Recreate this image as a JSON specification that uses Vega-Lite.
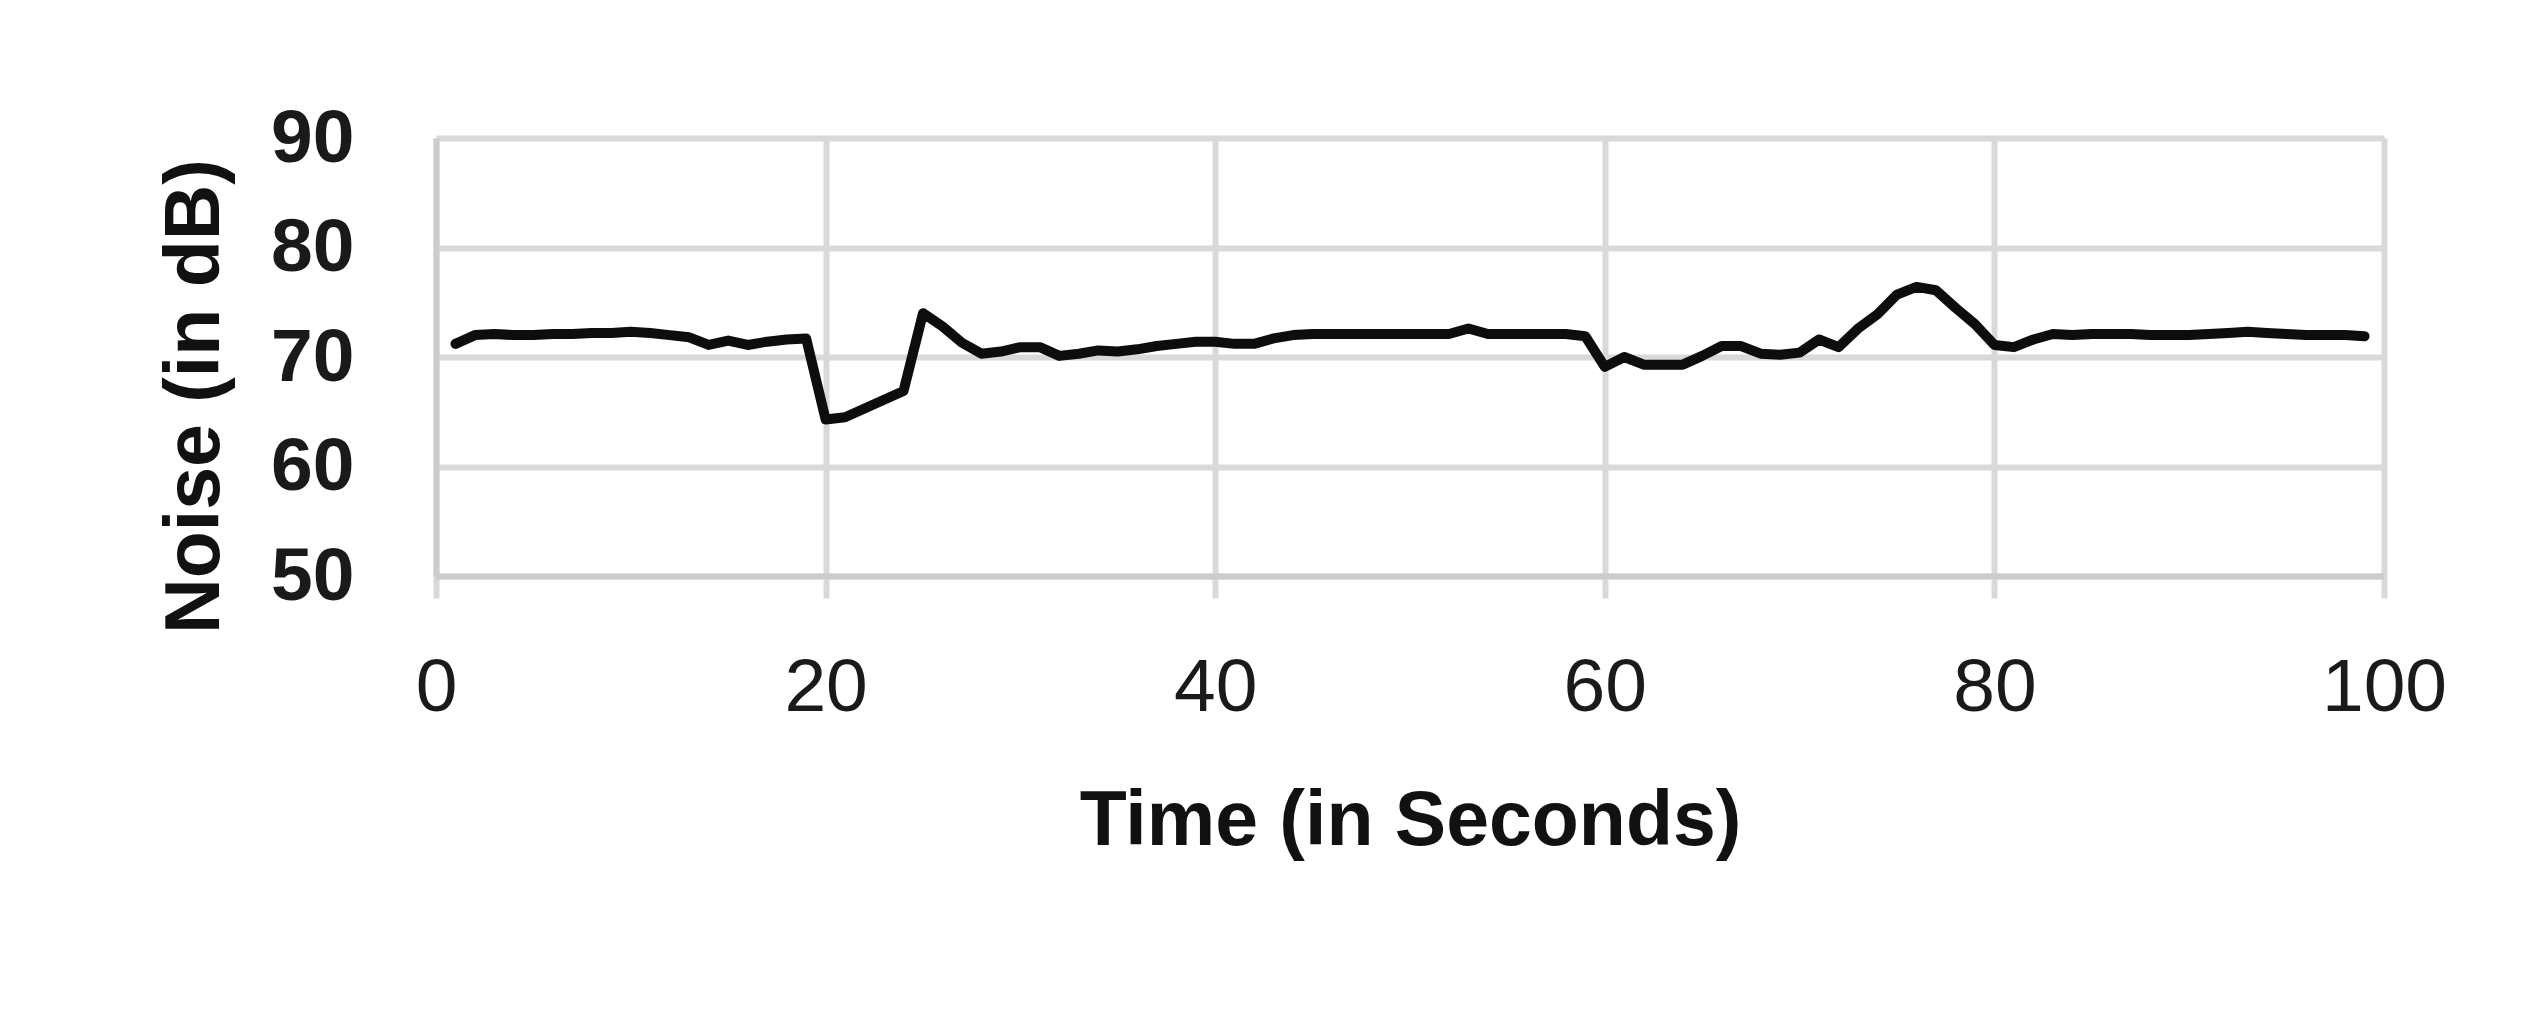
{
  "$schema": "https://vega.github.io/schema/vega-lite/v6.json",
  "width": 1948,
  "height": 438,
  "autosize": {"type": "none"},
  "padding": {"left": 436, "top": 138, "right": 159, "bottom": 446},
  "background": "white",
  "config": {
    "view": {"stroke": null},
    "font": "Liberation Sans"
  },
  "data": {
    "values": [
      {"t": 1, "noise": 71.2}, {"t": 2, "noise": 72.0}, {"t": 3, "noise": 72.1}, {"t": 4, "noise": 72.0},
      {"t": 5, "noise": 72.0}, {"t": 6, "noise": 72.1}, {"t": 7, "noise": 72.1}, {"t": 8, "noise": 72.2},
      {"t": 9, "noise": 72.2}, {"t": 10, "noise": 72.3}, {"t": 11, "noise": 72.2}, {"t": 12, "noise": 72.0},
      {"t": 13, "noise": 71.8}, {"t": 14, "noise": 71.1}, {"t": 15, "noise": 71.5}, {"t": 16, "noise": 71.1},
      {"t": 17, "noise": 71.4}, {"t": 18, "noise": 71.6}, {"t": 19, "noise": 71.7}, {"t": 20, "noise": 64.3},
      {"t": 21, "noise": 64.5}, {"t": 22, "noise": 65.3}, {"t": 23, "noise": 66.1}, {"t": 24, "noise": 66.9},
      {"t": 25, "noise": 74.0}, {"t": 26, "noise": 72.8}, {"t": 27, "noise": 71.3}, {"t": 28, "noise": 70.3},
      {"t": 29, "noise": 70.5}, {"t": 30, "noise": 70.9}, {"t": 31, "noise": 70.9}, {"t": 32, "noise": 70.1},
      {"t": 33, "noise": 70.3}, {"t": 34, "noise": 70.6}, {"t": 35, "noise": 70.5}, {"t": 36, "noise": 70.7},
      {"t": 37, "noise": 71.0}, {"t": 38, "noise": 71.2}, {"t": 39, "noise": 71.4}, {"t": 40, "noise": 71.4},
      {"t": 41, "noise": 71.2}, {"t": 42, "noise": 71.2}, {"t": 43, "noise": 71.7}, {"t": 44, "noise": 72.0},
      {"t": 45, "noise": 72.1}, {"t": 46, "noise": 72.1}, {"t": 47, "noise": 72.1}, {"t": 48, "noise": 72.1},
      {"t": 49, "noise": 72.1}, {"t": 50, "noise": 72.1}, {"t": 51, "noise": 72.1}, {"t": 52, "noise": 72.1},
      {"t": 53, "noise": 72.6}, {"t": 54, "noise": 72.1}, {"t": 55, "noise": 72.1}, {"t": 56, "noise": 72.1},
      {"t": 57, "noise": 72.1}, {"t": 58, "noise": 72.1}, {"t": 59, "noise": 71.9}, {"t": 60, "noise": 69.1},
      {"t": 61, "noise": 70.0}, {"t": 62, "noise": 69.3}, {"t": 63, "noise": 69.3}, {"t": 64, "noise": 69.3},
      {"t": 65, "noise": 70.1}, {"t": 66, "noise": 71.0}, {"t": 67, "noise": 71.0}, {"t": 68, "noise": 70.3},
      {"t": 69, "noise": 70.2}, {"t": 70, "noise": 70.4}, {"t": 71, "noise": 71.6}, {"t": 72, "noise": 70.9},
      {"t": 73, "noise": 72.6}, {"t": 74, "noise": 73.9}, {"t": 75, "noise": 75.7}, {"t": 76, "noise": 76.4},
      {"t": 77, "noise": 76.1}, {"t": 78, "noise": 74.5}, {"t": 79, "noise": 73.0}, {"t": 80, "noise": 71.1},
      {"t": 81, "noise": 70.9}, {"t": 82, "noise": 71.6}, {"t": 83, "noise": 72.1}, {"t": 84, "noise": 72.0},
      {"t": 85, "noise": 72.1}, {"t": 86, "noise": 72.1}, {"t": 87, "noise": 72.1}, {"t": 88, "noise": 72.0},
      {"t": 89, "noise": 72.0}, {"t": 90, "noise": 72.0}, {"t": 91, "noise": 72.1}, {"t": 92, "noise": 72.2},
      {"t": 93, "noise": 72.3}, {"t": 94, "noise": 72.2}, {"t": 95, "noise": 72.1}, {"t": 96, "noise": 72.0},
      {"t": 97, "noise": 72.0}, {"t": 98, "noise": 72.0}, {"t": 99, "noise": 71.9}
    ]
  },
  "mark": {"type": "line", "color": "#0d0d0d", "strokeWidth": 10, "strokeJoin": "round", "strokeCap": "round"},
  "encoding": {
    "x": {
      "field": "t",
      "type": "quantitative",
      "scale": {"domain": [0, 100], "nice": false, "zero": false},
      "axis": {
        "title": "Time (in Seconds)",
        "values": [0, 20, 40, 60, 80, 100],
        "grid": true,
        "gridColor": "#d9d9d9",
        "gridWidth": 6,
        "ticks": true,
        "tickSize": 22,
        "tickColor": "#d9d9d9",
        "tickWidth": 6,
        "domain": true,
        "domainColor": "#cccccc",
        "domainWidth": 6,
        "labelFont": "Liberation Sans",
        "labelFontSize": 75,
        "labelFontWeight": "normal",
        "labelColor": "#1a1a1a",
        "labelPadding": 53,
        "labelFlush": false,
        "labelOverlap": false,
        "titleFont": "Liberation Sans",
        "titleFontSize": 77,
        "titleFontWeight": "bold",
        "titleColor": "#111111",
        "titlePadding": 58
      }
    },
    "y": {
      "field": "noise",
      "type": "quantitative",
      "scale": {"domain": [50, 90], "nice": false, "zero": false},
      "axis": {
        "title": "Noise (in dB)",
        "values": [50, 60, 70, 80, 90],
        "grid": true,
        "gridColor": "#d9d9d9",
        "gridWidth": 6,
        "ticks": false,
        "tickSize": 0,
        "domain": true,
        "domainColor": "#cccccc",
        "domainWidth": 6,
        "labelFont": "Liberation Sans",
        "labelFontSize": 75,
        "labelFontWeight": "bold",
        "labelColor": "#1a1a1a",
        "labelPadding": 82,
        "labelFlush": false,
        "labelOverlap": false,
        "titleFont": "Liberation Sans",
        "titleFontSize": 77,
        "titleFontWeight": "bold",
        "titleColor": "#111111",
        "titleX": -202,
        "titleY": 258
      }
    }
  }
}
